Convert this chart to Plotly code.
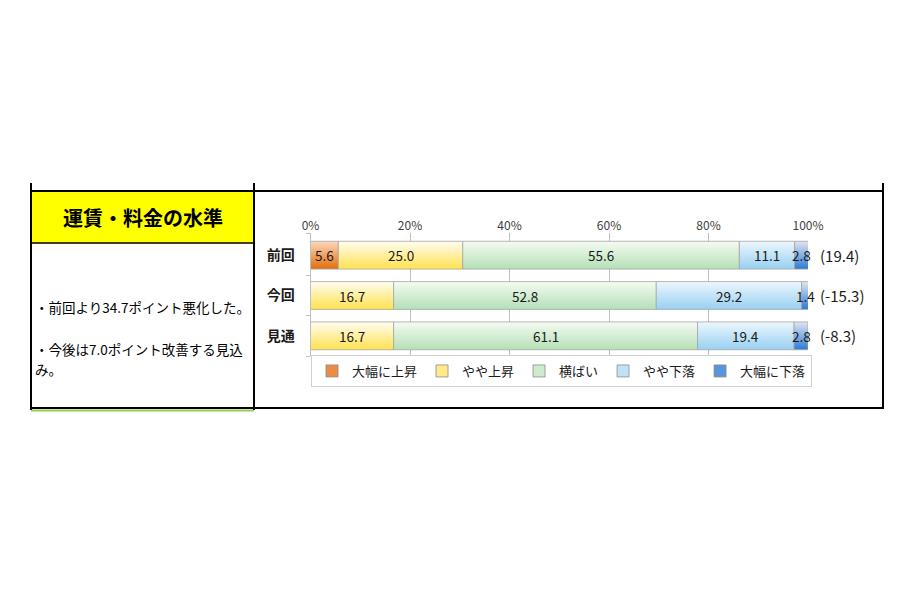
import plotly.graph_objects as go

# data
periods = ['前回', '今回', '見通']
series = ['大幅に上昇', 'やや上昇', '横ばい', 'やや下落', '大幅に下落']
values = [
    [5.6, 0.0, 0.0],      # 大幅に上昇
    [25.0, 16.7, 16.7],   # やや上昇
    [55.6, 52.8, 61.1],   # 横ばい
    [11.1, 29.2, 19.4],   # やや下落
    [2.8, 1.4, 2.8],      # 大幅に下落
]
di_labels = ['(19.4)', '(-15.3)', '(-8.3)']
x_ticks = [0, 20, 40, 60, 80, 100]
x_ticktext = ['0%', '20%', '40%', '60%', '80%', '100%']

title = '運賃・料金の水準'
comment1 = '・前回より34.7ポイント悪化した。'
comment2 = '・今後は7.0ポイント改善する見込'
comment3 = 'み。'

# gradient (top, bottom) and legend colour per series
grad = [
    ('#FBD9BD', '#E46C0A'),
    ('#FFFDF2', '#FFE14F'),
    ('#F5FBF2', '#B4E0B7'),
    ('#EDF7FD', '#98D0F2'),
    ('#DFE5F0', '#2D7AD6'),
]
legend_col = ['#EC8B45', '#FFEB8A', '#CDEBCD', '#BEE2F7', '#5A95DC']

FONT = 'Noto Sans CJK JP'
W, H = 900, 600
OFF = 8  # page margin of the html body
half = 0.345

fig = go.Figure()

# stacked segments as gradient-filled polygons
for s, name in enumerate(series):
    for i in range(len(periods)):
        v = values[s][i]
        if v <= 0:
            continue
        x0 = sum(values[k][i] for k in range(s))
        x1 = x0 + v
        fig.add_trace(go.Scatter(
            x=[x0, x1, x1, x0, x0],
            y=[i - half, i - half, i + half, i + half, i - half],
            mode='lines', fill='toself',
            line=dict(color='#A6A6A6', width=0.8),
            fillgradient=dict(type='vertical',
                              colorscale=[[0, grad[s][1]], [1, grad[s][0]]]),
            showlegend=False, hoverinfo='skip'))
        fig.add_annotation(x=(x0 + x1) / 2, y=i, text=f'{v:.1f}',
                           showarrow=False, font=dict(size=13.5, color='#1a1a1a'))

# legend entries
for s, name in enumerate(series):
    fig.add_trace(go.Bar(x=[None], y=[None], name=name, orientation='h',
                         marker=dict(color=legend_col[s],
                                     line=dict(color='#8C8C8C', width=0.8))))

# DI figures to the right of the bars
for i, lab in enumerate(di_labels):
    fig.add_annotation(x=100, y=i, text=lab, showarrow=False, xanchor='left',
                       xshift=10, font=dict(size=15, color='#1a1a1a'))


def px(x):
    return (x - OFF) / W


def py(y):
    return 1 - (y - OFF) / H


# table frame
shapes = [
    dict(type='rect', x0=px(31), x1=px(254), y0=py(191), y1=py(243),
         fillcolor='#FFFF00', line=dict(color='black', width=1.5)),
    dict(type='line', x0=px(31), x1=px(883), y0=py(191), y1=py(191),
         line=dict(color='black', width=2)),
    dict(type='line', x0=px(31), x1=px(883), y0=py(408), y1=py(408),
         line=dict(color='black', width=2)),
    dict(type='line', x0=px(31), x1=px(254), y0=py(410.5), y1=py(410.5),
         line=dict(color='#92D050', width=2)),
    dict(type='line', x0=px(31), x1=px(31), y0=py(183), y1=py(410),
         line=dict(color='black', width=2)),
    dict(type='line', x0=px(254), x1=px(254), y0=py(183), y1=py(410),
         line=dict(color='black', width=2)),
    dict(type='line', x0=px(883), x1=px(883), y0=py(183), y1=py(409),
         line=dict(color='black', width=2)),
]
for sh in shapes:
    sh.update(xref='paper', yref='paper', layer='above' if sh['type'] == 'line' else 'below')
    fig.add_shape(sh)

fig.add_annotation(x=px(143), y=py(217), xref='paper', yref='paper', text=title,
                   showarrow=False, xanchor='center', yanchor='middle',
                   font=dict(size=20, color='black', family=FONT, weight='bold'))
fig.add_annotation(x=px(33), y=py(307), xref='paper', yref='paper', text=comment1,
                   showarrow=False, xanchor='left', yanchor='middle',
                   font=dict(size=13.5, color='black'))
fig.add_annotation(x=px(33), y=py(349), xref='paper', yref='paper', text=comment2,
                   showarrow=False, xanchor='left', yanchor='middle',
                   font=dict(size=13.5, color='black'))
fig.add_annotation(x=px(33), y=py(369), xref='paper', yref='paper', text=comment3,
                   showarrow=False, xanchor='left', yanchor='middle',
                   font=dict(size=13.5, color='black'))

fig.update_layout(
    width=W, height=H,
    margin=dict(l=0, r=0, t=0, b=0, pad=0, autoexpand=False),
    paper_bgcolor='white', plot_bgcolor='white',
    font=dict(family=FONT, color='#262626'),
    barmode='stack',
    showlegend=True,
    legend=dict(orientation='h', x=px(311), y=py(355), xanchor='left', yanchor='top',
                bordercolor='#D0D0D0', borderwidth=1, bgcolor='white',
                font=dict(size=13, color='#1a1a1a'), traceorder='normal'),
    xaxis=dict(domain=[px(310.5), px(808)], range=[0, 100], side='top',
               tickvals=x_ticks, ticktext=x_ticktext, showgrid=True,
               gridcolor='#BFBFBF', gridwidth=1, zeroline=False, automargin=False,
               tickfont=dict(size=12, color='#404040'), fixedrange=True),
    yaxis=dict(domain=[py(356), py(233)], range=[2.5, -0.55],
               tickvals=list(range(len(periods))), ticktext=periods,
               showgrid=False, zeroline=False, showline=True, automargin=False,
               linecolor='#BFBFBF', linewidth=1, ticks='',
               ticklabelstandoff=12,
               minor=dict(tickvals=[-0.55, 0.5, 1.5, 2.5], ticks='outside',
                          ticklen=4, tickcolor='#BFBFBF'),
               tickfont=dict(size=14, color='#1a1a1a', weight='bold'), fixedrange=True),
)

fig.write_html('out.html')
